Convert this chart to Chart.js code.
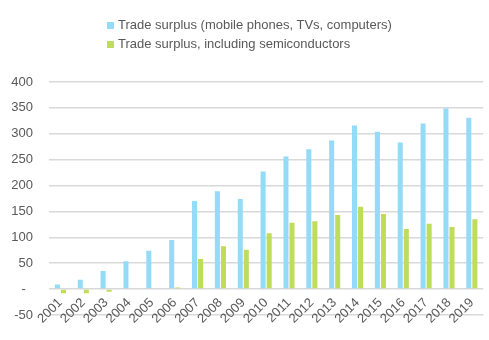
<!DOCTYPE html>
<html>
<head>
<meta charset="utf-8">
<script src="https://cdn.jsdelivr.net/npm/chart.js@4"></script>
<style>
  body { margin: 0; background: #fff; }
  #wrap { position: relative; width: 489px; height: 340px; }
  #legend { position: absolute; left: 107px; top: 15px; font: 13px "Liberation Sans", Arial, sans-serif; color: #595959; }
  #legend div { height: 19px; line-height: 19px; white-space: nowrap; }
  #legend span { display: inline-block; width: 7px; height: 7px; margin-right: 4px; vertical-align: 0px; }
</style>
</head>
<body>
<div id="wrap">
  <canvas id="graphCanvas" width="489" height="340"></canvas>
  <div id="legend"></div>
</div>
<script>
// years on the x axis
var years = ['2001', '2002', '2003', '2004', '2005', '2006', '2007', '2008', '2009', '2010',
             '2011', '2012', '2013', '2014', '2015', '2016', '2017', '2018', '2019'];

// trade surplus, mobile phones / TVs / computers
var surplus = [9, 18, 35, 54, 74, 95, 170, 189, 174, 227, 256, 270, 287, 316, 304, 283, 320, 349, 331];

// trade surplus including semiconductors
var surplusSemi = [-8, -8, -5, 0, 0, 3, 58, 83, 76, 108, 128, 131, 143, 159, 145, 116, 126, 120, 135];

var names = ['Trade surplus (mobile phones, TVs, computers)', 'Trade surplus, including semiconductors'];
var colors = ['#93dbf7', '#bfdc5a'];

// y axis ticks
var yMin = -50, yMax = 400, yStep = 50;

var txt = '#595959';
var fontFam = '"Liberation Sans", Arial, sans-serif';

var ctx = document.getElementById('graphCanvas');

var data = {
  labels: years,
  datasets: [
    {
      label: names[0],
      data: surplus,
      backgroundColor: colors[0],
      categoryPercentage: 0.53,
      barPercentage: 0.83
    },
    {
      label: names[1],
      data: surplusSemi,
      backgroundColor: colors[1],
      categoryPercentage: 0.53,
      barPercentage: 0.83
    }
  ]
};

var options = {
  responsive: false,
  animation: false,
  layout: { padding: { top: 82, right: 5, left: 0, bottom: 25 } },
  plugins: {
    legend: { display: false },
    tooltip: { enabled: false }
  },
  scales: {
    x: {
      position: { y: 0 },   // labels hang under the zero line, like excel
      grid: { display: false, drawTicks: false },
      border: { display: false },
      ticks: {
        color: txt,
        font: { family: fontFam, size: 13 },
        minRotation: 45,
        maxRotation: 45,
        padding: 6,
        autoSkip: false
      }
    },
    y: {
      min: yMin,
      max: yMax,
      grid: { color: '#d9d9d9', lineWidth: 1.5, drawTicks: false },
      border: { display: false },
      ticks: {
        stepSize: yStep,
        color: txt,
        font: { family: fontFam, size: 13 },
        padding: 16,
        // accounting style zero
        callback: function(v) { return v === 0 ? '-  ' : v; }
      },
      afterFit: function(scale) { scale.width = 49; }
    }
  }
};

var chart = new Chart(ctx, {
  type: 'bar',
  data: data,
  options: options
});

// legend as html, two rows like the original
var lg = document.getElementById('legend');
for (var i = 0; i < names.length; i++) {
  var row = document.createElement('div');
  var box = document.createElement('span');
  box.style.background = colors[i];
  row.appendChild(box);
  row.appendChild(document.createTextNode(names[i]));
  lg.appendChild(row);
}
</script>
</body>
</html>
